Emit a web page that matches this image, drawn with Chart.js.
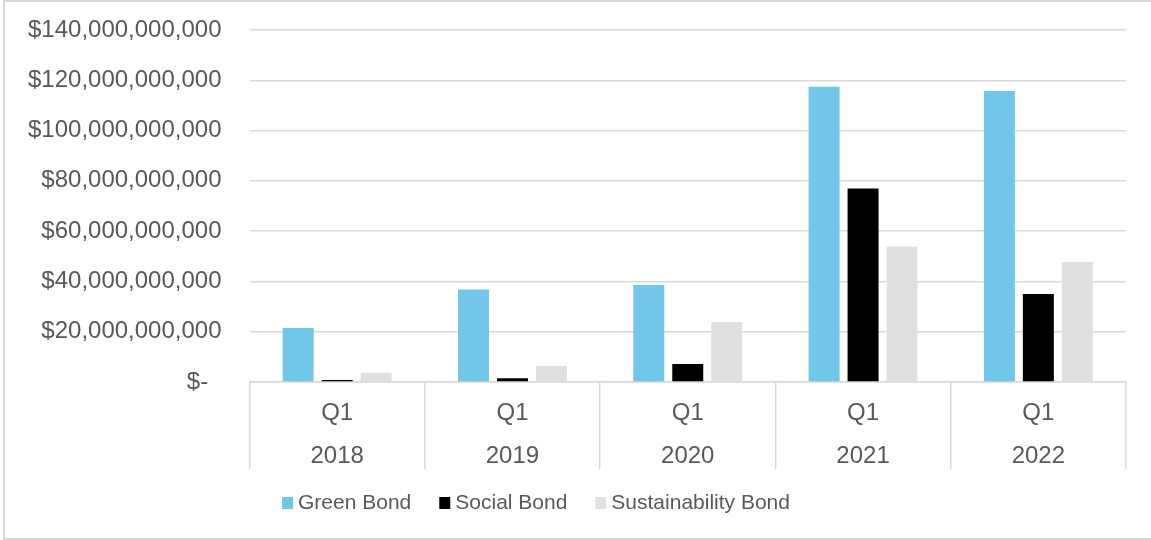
<!DOCTYPE html>
<html>
<head>
<meta charset="utf-8">
<script src="https://cdn.jsdelivr.net/npm/chart.js@4.4.0/dist/chart.umd.min.js"></script>
<style>
  html, body { margin: 0; padding: 0; background: #ffffff; }
  #wrap { position: relative; width: 1151px; height: 540px; overflow: hidden; }
  #frame { position: absolute; left: 3px; top: 0; width: 1160px; height: 536px;
           border: 2px solid #d9d9d9; border-right: none; pointer-events: none; }
</style>
</head>
<body>
<div id="wrap">
  <canvas id="c" width="1151" height="540"></canvas>
  <div id="frame"></div>
</div>
<script>
// Issuance volume by first quarter, USD
const years = ['2018', '2019', '2020', '2021', '2022'];
const quarters = ['Q1', 'Q1', 'Q1', 'Q1', 'Q1'];
const seriesNames = ['Green Bond', 'Social Bond', 'Sustainability Bond'];
const greenBond = [21.5e9, 36.8e9, 38.6e9, 117.4e9, 115.7e9];
const socialBond = [0.8e9, 1.5e9, 7.2e9, 77.0e9, 35.0e9];
const sustainabilityBond = [3.7e9, 6.4e9, 23.9e9, 53.9e9, 47.7e9];
const yTickMax = 140e9;
const yTickStep = 20e9;

const colors = ['#72c6e8', '#000000', '#e0e0e0'];
const textColor = '#595959';
const gridColor = '#d9d9d9';
const fontFamily = '"Liberation Sans", Arial, sans-serif';

// Legend drawn with a tight swatch-to-text gap
const compactLegend = {
  id: 'compactLegend',
  afterDraw(chart) {
    const ctx = chart.ctx;
    const box = { w: 11, h: 12 }, gap = 5, spacing = 28;
    const centerX = 536, centerY = 503;
    ctx.save();
    ctx.font = '21px ' + fontFamily;
    ctx.textBaseline = 'middle';
    ctx.textAlign = 'left';
    const items = chart.data.datasets.map(ds => ({
      label: ds.label, color: ds.backgroundColor, w: ctx.measureText(ds.label).width
    }));
    let total = items.reduce((s, it) => s + box.w + gap + it.w, 0) + spacing * (items.length - 1);
    let x = centerX - total / 2;
    items.forEach(it => {
      ctx.fillStyle = it.color;
      ctx.fillRect(x, centerY - box.h / 2, box.w, box.h);
      ctx.fillStyle = textColor;
      ctx.fillText(it.label, x + box.w + gap, centerY);
      x += box.w + gap + it.w + spacing;
    });
    ctx.restore();
  }
};

const seriesValues = [greenBond, socialBond, sustainabilityBond];

new Chart(document.getElementById('c'), {
  type: 'bar',
  data: {
    labels: quarters.map((q, i) => [q, years[i]]),
    datasets: seriesNames.map((name, i) => ({
      label: name,
      data: seriesValues[i],
      backgroundColor: colors[i],
      borderWidth: 0,
      categoryPercentage: 0.667,
      barPercentage: 0.795
    }))
  },
  options: {
    responsive: false,
    animation: false,
    layout: { padding: { top: 30, right: 25, left: 0, bottom: 68 } },
    plugins: {
      legend: { display: false },
      tooltip: { enabled: false }
    },
    scales: {
      x: {
        grid: {
          offset: true,
          drawOnChartArea: false,
          drawTicks: true,
          tickLength: 87,
          color: gridColor,
          lineWidth: 1.5
        },
        border: { display: true, color: gridColor, width: 1.5 },
        ticks: {
          color: textColor,
          font: { family: fontFamily, size: 24, lineHeight: 1.79 },
          padding: -77.5,
          maxRotation: 0,
          autoSkip: false
        },
        afterFit(scale) { scale.height = 90; }
      },
      y: {
        min: 0,
        max: yTickMax,
        grid: { color: gridColor, drawTicks: false, lineWidth: 1.5 },
        border: { display: false },
        ticks: {
          stepSize: yTickStep,
          color: textColor,
          padding: 28,
          font: { family: fontFamily, size: 24 },
          callback: v => v === 0 ? '$-  ' : '$' + Number(v).toLocaleString('en-US')
        },
        afterFit(scale) { scale.paddingTop = 0; }
      }
    }
  },
  plugins: [compactLegend]
});
</script>
</body>
</html>
